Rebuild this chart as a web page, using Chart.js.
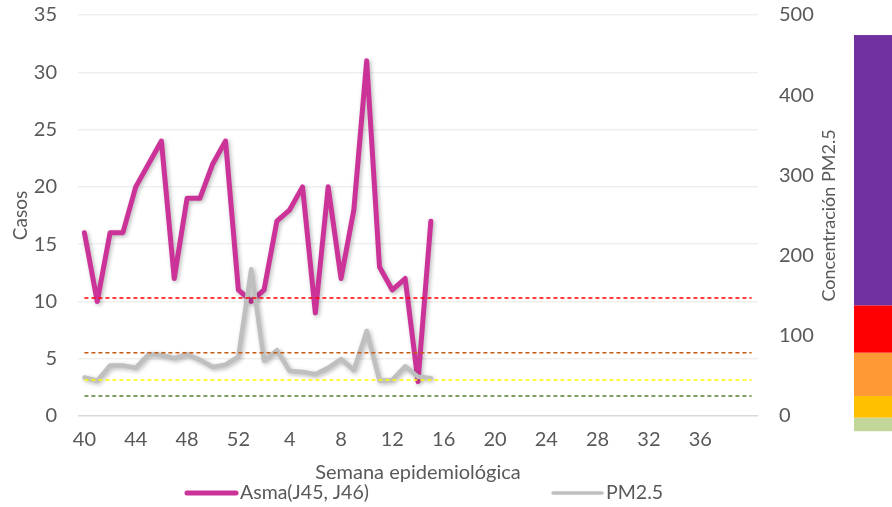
<!DOCTYPE html>
<html>
<head>
<meta charset="utf-8">
<script src="https://cdn.jsdelivr.net/npm/chart.js@4"></script>
<style>
  html, body { margin: 0; padding: 0; background: #fff; }
  #wrap { width: 892px; height: 507px; position: relative; }
</style>
</head>
<body>
<div id="wrap"><canvas id="chart1"></canvas></div>
<script>
// semanas epidemiológicas 40..52 y 1..40
var weeks = [40,41,42,43,44,45,46,47,48,49,50,51,52,
  1,2,3,4,5,6,7,8,9,10,11,12,13,14,15,16,17,18,19,20,
  21,22,23,24,25,26,27,28,29,30,31,32,33,34,35,36,37,38,39,40];

// casos de asma (eje izquierdo)
var asma = [16,10,16,16,20,22,24,12,19,19,22,24,11,
  10,11,17,18,20,9,20,12,18,31,13,11,12,3,17];

// concentración PM2.5 (eje derecho)
var pm25 = [48,44,63,63,60,77,76,72,77,70,61,64,74,
  183,69,82,56,55,52,60,71,57,106,44,45,62,49,47];

// límites de calidad del aire PM2.5
var limits = [147, 79, 45, 25];
var limitColors = ['#FF0000', '#C55A11', '#FFFF00', '#548235'];

// barra de colores a la derecha (en unidades de PM2.5)
var bandEdges = [-19, -2, 25, 79, 138, 475];
var bandColors = ['#C4D79B', '#FFC000', '#FF9933', '#FF0000', '#7030A0'];

var textColor = '#595959';
var fontFam = 'Lato, "Liberation Sans", sans-serif';

var datasets = [
  {
    label: 'Asma(J45, J46)',
    data: asma,
    yAxisID: 'y',
    borderColor: '#CC3399',
    backgroundColor: '#CC3399',
    borderWidth: 5,
    pointRadius: 0,
    tension: 0,
    borderJoinStyle: 'round',
    borderCapStyle: 'round',
    order: 3,
    shadow: true
  },
  {
    label: 'PM2.5',
    data: pm25,
    yAxisID: 'y1',
    borderColor: '#BFBFBF',
    backgroundColor: '#BFBFBF',
    borderWidth: 4.5,
    pointRadius: 0,
    tension: 0,
    borderJoinStyle: 'round',
    borderCapStyle: 'round',
    order: 2,
    shadow: true
  }
];

limits.forEach(function(v, i){
  datasets.push({
    label: 'lim' + v,
    data: weeks.map(function(){ return v; }),
    yAxisID: 'y1',
    borderColor: limitColors[i],
    borderWidth: 1.5,
    borderDash: [4, 3],
    pointRadius: 0,
    order: 1
  });
});

var shadowPlugin = {
  id: 'shadow',
  beforeDatasetDraw: function(chart, args){
    var ds = chart.data.datasets[args.index];
    chart.ctx.save();
    if (ds.shadow) {
      chart.ctx.shadowColor = 'rgba(0,0,0,0.28)';
      chart.ctx.shadowBlur = 4;
      chart.ctx.shadowOffsetX = 1.5;
      chart.ctx.shadowOffsetY = 1.5;
    }
  },
  afterDatasetDraw: function(chart){
    chart.ctx.restore();
  }
};

var extrasPlugin = {
  id: 'extras',
  afterDraw: function(chart){
    var ctx = chart.ctx;
    var yR = chart.scales.y1;
    var area = chart.chartArea;
    ctx.save();

    // título del eje derecho, de abajo hacia arriba
    ctx.font = '18px ' + fontFam;
    ctx.fillStyle = textColor;
    ctx.textAlign = 'center';
    ctx.textBaseline = 'middle';
    ctx.translate(area.right + 71, (area.top + area.bottom) / 2);
    ctx.rotate(-Math.PI / 2);
    ctx.fillText('Concentración PM2.5', 0, 0);
    ctx.restore();

    // barra de colores
    ctx.save();
    var bx = area.right + 96;
    for (var i = 0; i < bandColors.length; i++) {
      var yTop = yR.getPixelForValue(bandEdges[i + 1]);
      var yBot = yR.getPixelForValue(bandEdges[i]);
      ctx.fillStyle = bandColors[i];
      ctx.fillRect(bx, yTop, chart.width - bx, yBot - yTop);
    }
    ctx.restore();

    // leyenda
    ctx.save();
    var ly = chart.height - 14;
    var cx = chart.width / 2;
    var items = [
      { ds: chart.data.datasets[0], x: cx - 259, w: 5 },
      { ds: chart.data.datasets[1], x: cx + 107, w: 3.5 }
    ];
    ctx.font = '19.5px ' + fontFam;
    ctx.textBaseline = 'middle';
    ctx.textAlign = 'left';
    items.forEach(function(it){
      ctx.strokeStyle = it.ds.borderColor;
      ctx.lineWidth = it.w;
      ctx.lineCap = 'round';
      ctx.beginPath();
      ctx.moveTo(it.x, ly);
      ctx.lineTo(it.x + 49, ly);
      ctx.stroke();
      ctx.fillStyle = textColor;
      ctx.fillText(it.ds.label, it.x + 53, ly);
    });
    ctx.restore();
  }
};

var ctx = document.getElementById('chart1');
var myChart = new Chart(ctx, {
  type: 'line',
  data: { labels: weeks, datasets: datasets },
  plugins: [shadowPlugin, extrasPlugin],
  options: {
    responsive: true,
    maintainAspectRatio: false,
    animation: false,
    layout: { padding: { left: 4, right: 72, top: 15, bottom: 0 } },
    plugins: {
      legend: { display: false },
      tooltip: { enabled: false }
    },
    scales: {
      x: {
        offset: true,
        grid: { display: false, drawTicks: false },
        border: { display: false },
        ticks: {
          color: textColor,
          font: { family: fontFam, size: 20 },
          padding: 12,
          autoSkip: false,
          maxRotation: 0,
          callback: function(val, idx){
            return (idx % 4 === 0 && idx < 52) ? weeks[idx] : null;
          }
        },
        title: {
          display: true,
          text: 'Semana epidemiológica',
          color: textColor,
          font: { family: fontFam, size: 20 },
          padding: { top: 0, bottom: 22 }
        },
        afterFit: function(s){
          s.height = 91;
          s.paddingLeft = 0;
          s.paddingRight = 0;
        }
      },
      y: {
        position: 'left',
        min: 0,
        max: 35,
        ticks: {
          stepSize: 5,
          color: textColor,
          font: { family: fontFam, size: 20 },
          padding: 21
        },
        grid: {
          drawTicks: false,
          lineWidth: 1.5,
          color: function(c){ return c.index === 0 ? '#D9D9D9' : '#EFEFEF'; }
        },
        border: { display: false },
        title: {
          display: true,
          text: 'Casos',
          color: textColor,
          font: { family: fontFam, size: 19 },
          padding: { top: 5, bottom: 0 }
        },
        afterFit: function(s){
          s.width = 74;
          s.paddingTop = 0;
          s.paddingBottom = 0;
        }
      },
      y1: {
        position: 'right',
        min: 0,
        max: 500,
        ticks: {
          stepSize: 100,
          color: textColor,
          font: { family: fontFam, size: 20 },
          padding: 21
        },
        grid: { display: false, drawTicks: false },
        border: { display: false },
        afterFit: function(s){
          s.width = 62;
          s.paddingTop = 0;
          s.paddingBottom = 0;
        }
      }
    }
  }
});
</script>
</body>
</html>
